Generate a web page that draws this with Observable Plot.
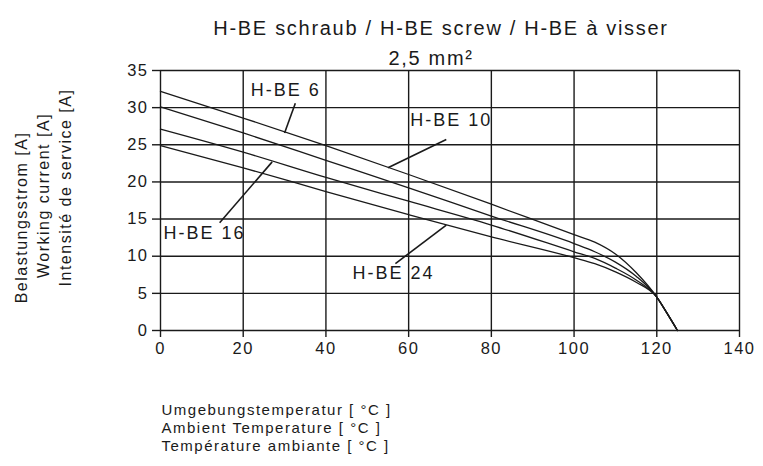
<!DOCTYPE html>
<html><head><meta charset="utf-8">
<script src="https://cdn.jsdelivr.net/npm/d3@7"></script>
<script src="https://cdn.jsdelivr.net/npm/@observablehq/plot@0.6"></script>
<style>
html,body{margin:0;padding:0;background:#fff;}
#chart svg{display:block;}
#chart svg text{letter-spacing:1.5px;}
</style></head><body><div id="chart"></div>
<script>
// ---- data ----
const temperature = [0, 20, 40, 60, 80, 100, 105, 110, 115, 120, 122.5, 125];
const hbe6  = [32.2, 28.6, 24.9, 21.0, 17.0, 12.9, 11.9, 10.3, 7.8, 4.5, 2.3, 0];
const hbe10 = [30.1, 26.6, 22.9, 19.2, 15.4, 11.7, 10.6, 9.2, 7.3, 4.5, 2.3, 0];
const hbe16 = [27.1, 24.0, 20.6, 17.4, 14.2, 10.6, 9.7, 8.4, 6.8, 4.5, 2.3, 0];
const hbe24 = [24.9, 21.9, 18.7, 15.6, 12.6, 9.8, 9.0, 7.9, 6.5, 4.5, 2.3, 0];
const seriesNames = ["H-BE 6", "H-BE 10", "H-BE 16", "H-BE 24"];
const xTicks = [0, 20, 40, 60, 80, 100, 120, 140];
const yTicks = [0, 5, 10, 15, 20, 25, 30, 35];
const titleText = "H-BE schraub / H-BE screw / H-BE à visser";
const subtitleText = "2,5 mm²";
const yLabelLines = ["Belastungsstrom [A]", "Working current [A]", "Intensité de service [A]"];
const xLabelLines = ["Umgebungstemperatur [ °C ]", "Ambient Temperature [ °C ]", "Température ambiante [ °C ]"];
// annotation labels (data units) and their leader lines
const labelTemp = [21.8, 60.4, 0.7, 46.4];
const labelCurrent = [32.3, 28.3, 13.1, 7.7];
const leaderFromTemp = [32.6, 69.1, 14.3, 56.8];
const leaderFromCurrent = [30.6, 25.7, 14.5, 9.0];
const leaderToTemp = [30.0, 55.0, 27.0, 69.1];
const leaderToCurrent = [26.6, 21.9, 22.7, 14.2];

// ---- build tables ----
const seriesValues = [hbe6, hbe10, hbe16, hbe24];
const rows = seriesNames.flatMap((s, i) => temperature.map((t, j) => ({series: s, t, a: seriesValues[i][j]})));
const labels = seriesNames.map((s, i) => ({text: s, x: labelTemp[i], y: labelCurrent[i]}));
const leaders = seriesNames.map((s, i) => ({x1: leaderFromTemp[i], y1: leaderFromCurrent[i], x2: leaderToTemp[i], y2: leaderToCurrent[i]}));

const font = "'Liberation Sans', Arial, Helvetica, sans-serif";
const ink = "#1a1a1a";

// layout offsets for the rotated y-title lines and the x-title lines
const yTitleDx = [-139, -117, -95];
const yTitleDy = [17, -5, -13];
const xTitleDy = [84, 102, 120];

const chart = Plot.plot({
  width: 763,
  height: 466,
  marginLeft: 160,
  marginRight: 24,
  marginTop: 70,
  marginBottom: 136,
  style: {fontFamily: font, fontSize: "16px", color: ink, background: "#fff", overflow: "visible"},
  x: {domain: [0, 140]},
  y: {domain: [0, 35]},
  marks: [
    Plot.gridX(xTicks, {stroke: ink, strokeOpacity: 1, strokeWidth: 1.4}),
    Plot.gridY(yTicks, {stroke: ink, strokeOpacity: 1, strokeWidth: 1.4}),
    Plot.axisX(xTicks, {tickSize: 7, tickPadding: 5, label: null, stroke: ink, strokeWidth: 1.4, fontSize: 16.5, fill: ink}),
    Plot.axisY(yTicks, {tickSize: 8, tickPadding: 4, label: null, stroke: ink, strokeWidth: 1.4, fontSize: 16.5, fill: ink}),
    Plot.line(rows, {x: "t", y: "a", z: "series", curve: "monotone-x", stroke: ink, strokeWidth: 1.3}),
    Plot.link(leaders, {x1: "x1", y1: "y1", x2: "x2", y2: "y2", stroke: ink, strokeWidth: 1.6}),
    Plot.text(labels, {x: "x", y: "y", text: "text", textAnchor: "start", fontSize: 18, fill: ink, style: "letter-spacing:2px"}),
    Plot.text([titleText], {frameAnchor: "top", dx: -9, dy: -50, fontSize: 20, fill: ink}),
    Plot.text([subtitleText], {frameAnchor: "top", dx: -19, dy: -20, fontSize: 20, fill: ink}),
    ...yLabelLines.map((line, i) => Plot.text([line], {
      frameAnchor: "left", textAnchor: "middle", rotate: -90, dx: yTitleDx[i], dy: yTitleDy[i], fontSize: 16, fill: ink
    })),
    ...xLabelLines.map((line, i) => Plot.text([line], {
      frameAnchor: "bottom-left", textAnchor: "start", dx: 1, dy: xTitleDy[i], fontSize: 15, fill: ink
    }))
  ]
});
document.getElementById("chart").appendChild(chart);
// slightly wider tracking for the title lines and curve labels, as in the reference
d3.select(chart).selectAll("text").filter(function() {
  const t = this.textContent;
  return t === titleText || t === subtitleText;
}).style("letter-spacing", "1.7px");
d3.select(chart).selectAll("text").filter(function() {
  return seriesNames.includes(this.textContent);
}).style("letter-spacing", "2px");
</script></body></html>
